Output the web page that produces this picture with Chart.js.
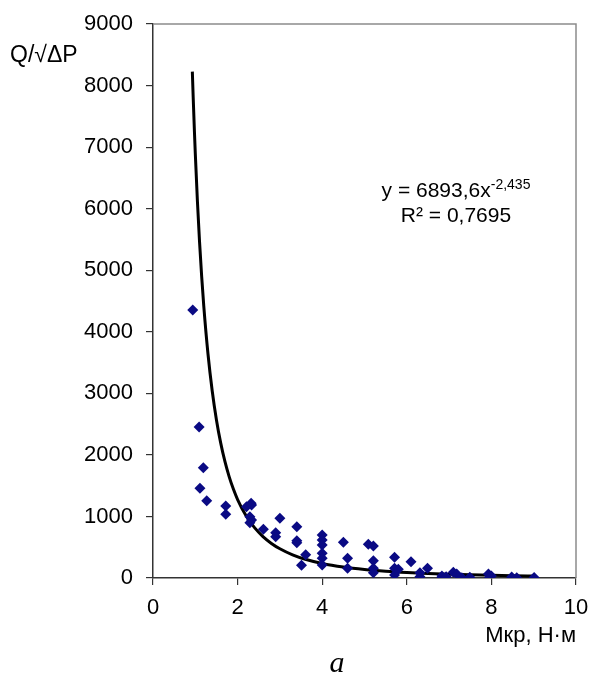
<!DOCTYPE html>
<html>
<head>
<meta charset="utf-8">
<script src="https://cdn.jsdelivr.net/npm/chart.js@4.4.1/dist/chart.umd.min.js"></script>
<style>
html,body{margin:0;padding:0;background:#fff;}
#wrap{width:590px;height:691px;position:relative;}
</style>
</head>
<body>
<div id="wrap"><canvas id="c" width="590" height="691"></canvas></div>
<script>
// Measured points: torque Мкр (N·m) and Q/√ΔP
const xValues = [0.94,1.09,1.19,1.11,1.27,1.72,1.72,2.21,2.32,2.33,2.29,2.33,2.29,2.61,2.90,2.90,3.00,3.40,3.40,3.40,3.61,3.51,
  4.00,4.00,4.00,4.00,4.00,4.00,4.50,4.60,4.60,5.09,5.21,5.21,5.21,5.21,5.71,5.71,5.80,5.71,6.10,6.31,6.31,6.49,
  6.83,6.83,6.93,7.10,7.18,7.30,7.49,7.93,8.00,7.95,8.48,8.60,9.01];
const yValues = [4353,2453,1792,1457,1256,1170,1035,1158,1213,1186,996,942,898,791,736,671,969,834,606,573,379,206,
  698,617,536,401,320,211,580,320,157,547,520,281,157,86,336,157,141,49,265,86,21,157,
  32,5,21,95,65,5,11,65,32,5,15,5,8];
// Power trendline printed on the chart: y = 6893,6·x^-2,435
const trendA = 6893.6;
const trendB = -2.435;
const trendXs = [0.93,0.95,0.98,1.0,1.05,1.1,1.15,1.2,1.3,1.4,1.5,1.6,1.7,1.8,1.9,2.0,2.2,2.4,2.6,2.8,3.0,3.3,3.6,4.0,4.5,5.0,5.5,6.0,6.5,7.0,7.5,8.0,8.5,9.01];
const xTicks = [0,2,4,6,8,10];
const yTicks = [0,1000,2000,3000,4000,5000,6000,7000,8000,9000];
const xTitle = 'Мкр, Н·м';
const yTitle = 'Q/√ΔP';
const eqText = 'y = 6893,6x';
const eqExp = '-2,435';
const r2Text = 'R² = 0,7695';
const caption = 'a';

const points = xValues.map((x,i)=>({x:x,y:yValues[i]}));
const trend = trendXs.map(x=>({x:x,y:trendA*Math.pow(x,trendB)}));

const FONT = '"Liberation Sans", Arial, sans-serif';

const extras = {
  id:'extras',
  afterDraw(chart){
    const ctx = chart.ctx, a = chart.chartArea;
    ctx.save();
    // plot area frame (top & right)
    ctx.strokeStyle = '#8c8c8c';
    ctx.lineWidth = 1.5;
    ctx.beginPath();
    ctx.moveTo(a.left, a.top); ctx.lineTo(a.right, a.top); ctx.lineTo(a.right, a.bottom);
    ctx.stroke();
    ctx.fillStyle = '#000';
    ctx.textBaseline = 'alphabetic';
    ctx.font = '23px ' + FONT;
    ctx.textAlign = 'left';
    ctx.fillText(yTitle, 10, 62);
    // equation
    ctx.font = '21px ' + FONT;
    const w1 = ctx.measureText(eqText).width;
    ctx.font = '14px ' + FONT;
    const w2 = ctx.measureText(eqExp).width;
    const x0 = 456 - (w1+w2)/2;
    ctx.font = '21px ' + FONT;
    ctx.fillText(eqText, x0, 197);
    ctx.font = '14px ' + FONT;
    ctx.fillText(eqExp, x0 + w1, 189);
    ctx.font = '21px ' + FONT;
    ctx.textAlign = 'center';
    ctx.fillText(r2Text, 456, 222);
    // caption
    ctx.font = 'italic 30px "Liberation Serif", "Times New Roman", serif';
    ctx.fillText(caption, 337, 672);
    ctx.restore();
  }
};

new Chart(document.getElementById('c'), {
  type:'scatter',
  data:{datasets:[
    {label:'data', data:points, pointStyle:'rectRot', pointRadius:5.5, pointHoverRadius:5.5,
     backgroundColor:'#0a0a84', borderColor:'#0a0a84', borderWidth:0, order:1},
    {label:'trend', type:'line', data:trend, showLine:true, pointRadius:0, borderColor:'#000',
     borderWidth:3, cubicInterpolationMode:'monotone', fill:false, order:2}
  ]},
  options:{
    responsive:false, animation:false, devicePixelRatio:1,
    layout:{padding:{left:0,right:14,top:24,bottom:0}},
    plugins:{legend:{display:false}, tooltip:{enabled:false}},
    scales:{
      x:{type:'linear', min:0, max:10,
        afterBuildTicks(s){ s.ticks = xTicks.map(v=>({value:v})); },
        afterFit(s){ s.height = 113; s.paddingLeft = 0; s.paddingRight = 0; },
        grid:{drawOnChartArea:false, drawTicks:true, tickLength:7, color:'#333', lineWidth:1.2},
        border:{display:true, color:'#333', width:1.5},
        ticks:{color:'#000', font:{family:FONT, size:22}, padding:10, maxRotation:0, callback:v=>String(v)},
        title:{display:true, text:xTitle, align:'end', color:'#000', font:{family:FONT,size:22}, padding:{top:0,bottom:42}}
      },
      y:{type:'linear', min:0, max:9000,
        afterBuildTicks(s){ s.ticks = yTicks.map(v=>({value:v})); },
        afterFit(s){ s.width = 153; s.paddingTop = 0; s.paddingBottom = 0; },
        grid:{drawOnChartArea:false, drawTicks:true, tickLength:7, color:'#333', lineWidth:1.2},
        border:{display:true, color:'#333', width:1.5},
        ticks:{color:'#000', font:{family:FONT, size:22}, padding:13, callback:v=>String(v)}
      }
    }
  },
  plugins:[extras]
});
</script>
</body>
</html>
